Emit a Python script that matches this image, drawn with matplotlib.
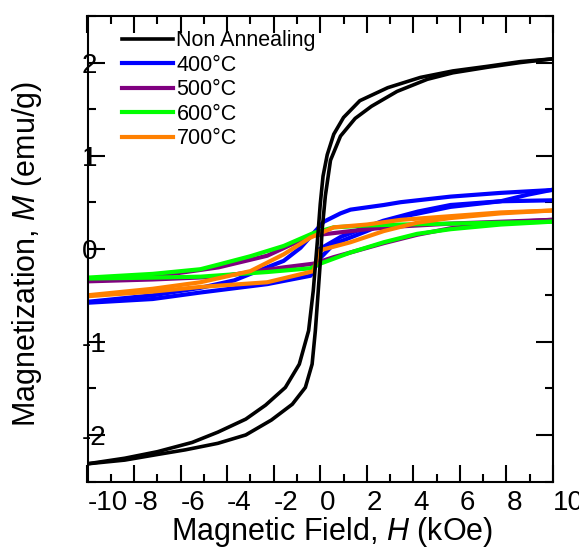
import matplotlib
matplotlib.use("Agg")
import matplotlib.pyplot as plt
from matplotlib.ticker import MultipleLocator

plt.rcParams["font.family"] = ["Liberation Sans", "DejaVu Sans"]
plt.rcParams["mathtext.fontset"] = "custom"
plt.rcParams["mathtext.rm"] = "Liberation Sans"
plt.rcParams["mathtext.it"] = "Liberation Sans:italic"

# Non Annealing, field going down then back up (kOe, emu/g)
na_down_h = [10.0, 8.6, 7.2, 5.7, 4.3, 2.9, 1.7, 1.0, 0.58, 0.3, 0.12, 0.0, -0.1, -0.2,
             -0.3, -0.5, -0.9, -1.5, -2.35, -3.2, -4.4, -5.5, -7.0, -8.4, -10.0]
na_down_m = [2.04, 2.01, 1.96, 1.91, 1.84, 1.73, 1.59, 1.41, 1.23, 1.01, 0.78, 0.48, 0.15,
             -0.15, -0.45, -0.88, -1.24, -1.49, -1.68, -1.83, -1.97, -2.08, -2.18, -2.25, -2.31]
na_up_h = [-10.0, -8.4, -7.0, -5.8, -4.4, -3.2, -2.1, -1.2, -0.64, -0.35, -0.21, -0.1, 0.0,
           0.08, 0.22, 0.44, 0.87, 1.5, 2.2, 3.3, 4.6, 5.7, 7.2, 8.6, 10.0]
na_up_m = [-2.31, -2.27, -2.21, -2.16, -2.09, -2.0, -1.84, -1.67, -1.49, -1.24, -0.88, -0.5,
           -0.15, 0.2, 0.57, 0.95, 1.21, 1.4, 1.53, 1.69, 1.82, 1.89, 1.95, 2.0, 2.04]

# 400 C
a400_down_h = [9.9, 7.75, 5.6, 3.45, 2.73, 1.3, 0.87, 0.15, -0.28, -0.85, -1.57, -3.0, -3.7,
               -5.15, -7.2, -10.0]
a400_down_m = [0.63, 0.60, 0.56, 0.50, 0.47, 0.42, 0.38, 0.29, 0.17, 0.01, -0.13, -0.27,
               -0.34, -0.42, -0.50, -0.57]
a400_up_h = [-10.0, -7.2, -5.15, -2.28, -0.42, 0.0, 0.58, 2.0, 3.45, 5.6, 7.75, 8.9, 9.9]
a400_up_m = [-0.58, -0.54, -0.47, -0.38, -0.29, -0.10, 0.05, 0.19, 0.34, 0.45, 0.51, 0.58, 0.63]
a400_init_h = [0.0, 0.9, 2.7, 4.2, 5.6, 7.75, 9.9]
a400_init_m = [0.0, 0.13, 0.30, 0.40, 0.47, 0.51, 0.52]

# 500 C
a500_down_h = [9.9, 7.75, 5.6, 3.45, 2.0, 0.3, -0.42, -2.28, -4.37, -7.2, -10.0]
a500_down_m = [0.31, 0.29, 0.27, 0.24, 0.21, 0.16, 0.14, -0.075, -0.20, -0.30, -0.34]
a500_up_h = [-10.0, -7.2, -4.37, -1.57, -0.28, 0.58, 1.3, 2.73, 4.16, 5.6, 7.75, 9.9]
a500_up_m = [-0.35, -0.33, -0.30, -0.20, -0.16, -0.09, -0.04, 0.06, 0.15, 0.22, 0.28, 0.31]

# 600 C
a600_down_h = [9.9, 7.75, 5.6, 3.45, 2.0, 0.58, -0.28, -1.57, -3.0, -4.37, -5.15, -7.2, -10.0]
a600_down_m = [0.29, 0.28, 0.27, 0.26, 0.25, 0.23, 0.17, 0.03, -0.08, -0.17, -0.22, -0.27, -0.31]
a600_up_h = [-10.0, -7.2, -5.15, -2.28, -0.42, 0.0, 1.3, 2.73, 4.16, 5.6, 7.75, 9.9]
a600_up_m = [-0.32, -0.31, -0.30, -0.25, -0.21, -0.16, -0.04, 0.07, 0.16, 0.21, 0.26, 0.29]

# 700 C
a700_down_h = [9.9, 7.75, 5.6, 3.45, 2.0, 0.58, -0.42, -1.57, -3.0, -5.15, -7.2, -10.0]
a700_down_m = [0.41, 0.39, 0.35, 0.31, 0.26, 0.23, 0.12, -0.06, -0.24, -0.36, -0.43, -0.50]
a700_up_h = [-10.0, -7.2, -5.15, -2.28, -0.28, -0.06, 1.3, 2.73, 4.16, 5.6, 7.75, 9.9]
a700_up_m = [-0.51, -0.46, -0.41, -0.36, -0.24, -0.02, 0.07, 0.19, 0.28, 0.33, 0.38, 0.41]

x_ticks = [-10, -8, -6, -4, -2, 0, 2, 4, 6, 8, 10]
x_labels = ["-10", "-8", "-6", "-4", "-2", "0", "2", "4", "6", "8", "10"]
y_ticks = [-2, -1, 0, 1, 2]
y_labels = ["-2", "-1", "0", "1", "2"]

fig = plt.figure(figsize=(5.79, 5.5), dpi=100)
ax = fig.add_axes([87.5 / 579, 1 - 481.5 / 550, 465.5 / 579, 465.5 / 550])

lw_c = 3.0
ax.plot(a400_down_h, a400_down_m, color="#0000ff", lw=lw_c, label="400°C")
ax.plot(a400_up_h, a400_up_m, color="#0000ff", lw=lw_c)
ax.plot(a400_init_h, a400_init_m, color="#0000ff", lw=lw_c)
ax.plot(a500_down_h, a500_down_m, color="#800080", lw=lw_c, label="500°C")
ax.plot(a500_up_h, a500_up_m, color="#800080", lw=lw_c)
ax.plot(a600_down_h, a600_down_m, color="#00ff00", lw=lw_c, label="600°C")
ax.plot(a600_up_h, a600_up_m, color="#00ff00", lw=lw_c)
ax.plot(a700_down_h, a700_down_m, color="#ff8000", lw=lw_c, label="700°C")
ax.plot(a700_up_h, a700_up_m, color="#ff8000", lw=lw_c)
ax.plot(na_down_h, na_down_m, color="black", lw=2.6, label="Non Annealing", zorder=5)
ax.plot(na_up_h, na_up_m, color="black", lw=2.6, zorder=5)

ax.set_xlim(-10, 10)
ax.set_ylim(-2.5, 2.5)
ax.set_xticks(x_ticks, x_labels)
ax.set_yticks(y_ticks, y_labels)
ax.xaxis.set_minor_locator(MultipleLocator(1))
ax.yaxis.set_minor_locator(MultipleLocator(0.5))
ax.tick_params(which="both", direction="in", top=True, right=True, width=1.5)
ax.tick_params(which="major", length=12)
ax.tick_params(which="minor", length=6)
ax.tick_params(axis="x", labelsize=20, pad=6)
ax.tick_params(axis="y", labelsize=20, pad=4)
plt.setp(ax.get_xticklabels(), ha="left")
plt.setp(ax.get_yticklabels(), ha="left")
for sp in ax.spines.values():
    sp.set_linewidth(1.5)

fig.text(332 / 579, 1 - 532 / 550, "Magnetic Field, $\\mathit{H}$ (kOe)",
         fontsize=22, ha="center", va="center")
fig.text(27 / 579, 1 - 254 / 550, "Magnetization, $\\mathit{M}$ (emu/g)",
         fontsize=22, ha="center", va="center", rotation=90)

handles, labels = ax.get_legend_handles_labels()
order = [4, 0, 1, 2, 3]
ax.legend([handles[i] for i in order], [labels[i] for i in order],
          loc="upper left", bbox_to_anchor=(0.074, 0.969), frameon=False,
          fontsize=15.5, handlelength=2.37, handletextpad=0.16,
          labelspacing=0.16, borderpad=0.0, borderaxespad=0.0)

fig.savefig("out.png", dpi=100)
